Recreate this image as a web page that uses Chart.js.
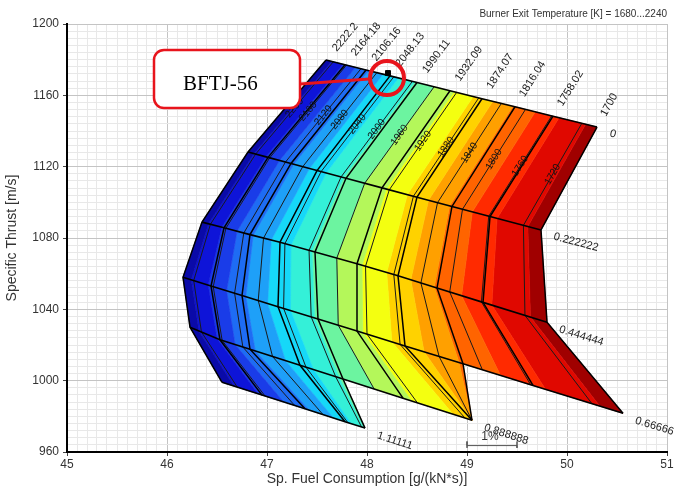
<!DOCTYPE html>
<html>
<head>
<meta charset="utf-8">
<title>Carpet plot</title>
<script src="https://cdn.jsdelivr.net/npm/chart.js@4.4.1/dist/chart.umd.min.js"></script>
<style>
  html, body { margin: 0; padding: 0; background: #fff; }
  #wrap { width: 683px; height: 488px; }
</style>
</head>
<body>
<div id="wrap"><canvas id="grafico"></canvas></div>
<script>
// linhas de temperatura de saida do queimador [K]
const temperaturas = [2222.2, 2164.18, 2106.16, 2048.13, 1990.11, 1932.09, 1874.07, 1816.04, 1758.02, 1700];
// rotulos das linhas do outro parametro
const rotulosLinha = ["0", "0.222222", "0.444444", "0.66666", "0.888888", "1.11111"];

// consumo especifico (x) e empuxo especifico (y), um ponto por temperatura
const sfcL0 = [47.59, 47.78, 47.99, 48.23, 48.50, 48.83, 49.15, 49.48, 49.86, 50.30];
const stL0  = [1179.8, 1177.2, 1174.2, 1170.9, 1167.2, 1162.6, 1158.1, 1153.6, 1148.3, 1142.2];
const sfcL1 = [46.81, 47.01, 47.24, 47.50, 47.79, 48.15, 48.50, 48.85, 49.23, 49.74];
const stL1  = [1128.2, 1125.2, 1121.8, 1117.8, 1113.5, 1108.1, 1102.9, 1097.7, 1092.0, 1084.5];
const sfcL2 = [46.35, 46.57, 46.83, 47.13, 47.48, 47.90, 48.31, 48.70, 49.16, 49.80];
const stL2  = [1088.9, 1085.7, 1081.9, 1077.6, 1072.2, 1065.6, 1058.8, 1052.0, 1043.9, 1032.8];
const sfcL3 = [46.16, 46.44, 46.75, 47.11, 47.51, 47.90, 48.38, 48.96, 49.66, 50.56];
const stL3  = [1058.0, 1053.1, 1047.8, 1041.5, 1034.6, 1027.8, 1019.5, 1009.5, 997.3, 981.7];
const sfcL4 = [46.23, 46.53, 46.83, 47.33, 47.76, 48.36, 49.05, 49.05];
const stL4  = [1030.0, 1022.9, 1017.6, 1008.6, 1000.9, 990.2, 977.8, 977.8];
const sfcL5 = [46.55, 46.95, 47.38, 47.78, 47.98];
const stL5  = [999.1, 991.9, 984.2, 977.0, 973.4];

// ponto de projeto
const projeto = { x: 48.21, y: 1172.5, nome: "BFTJ-56" };

// faixas de cor 1680...2240 K e linhas de contorno rotuladas [K]
const niveisCor = [1680, 1715, 1750, 1785, 1820, 1855, 1890, 1925, 1960, 1995, 2030, 2065, 2100, 2135, 2170, 2205, 2240];
const cores = ["#a00000", "#e00800", "#ff2a00", "#ff6400", "#ffa000", "#ffd200", "#f4ff10", "#b4f75a",
               "#6cf4a0", "#34f0d8", "#16d8f8", "#1ea0f8", "#1e6cf4", "#1a3ce8", "#0e14d8", "#0a0aa8"];
const niveisContorno = [2200, 2160, 2120, 2080, 2040, 2000, 1960, 1920, 1880, 1840, 1800, 1760, 1720];

// barra de 1% no consumo
const escala = { x0: 49, x1: 49.5, y: 963.6, rotulo: "1%" };

const vermelho = "#e8141c";
const titulo = "Burner Exit Temperature [K] = 1680...2240";

const pontos = (xs, ys) => xs.map((x, k) => ({ x, y: ys[k] }));
const linhas = [pontos(sfcL0, stL0), pontos(sfcL1, stL1), pontos(sfcL2, stL2),
                pontos(sfcL3, stL3), pontos(sfcL4, stL4), pontos(sfcL5, stL5)];
const lerp = (a, b, f) => ({ x: a.x + (b.x - a.x) * f, y: a.y + (b.y - a.y) * f });

function pontoNivel(linha, nivel) {
  for (let i = 0; i < linha.length - 1; i++) {
    const t1 = temperaturas[i], t2 = temperaturas[i + 1];
    if (nivel <= t1 && nivel >= t2) return lerp(linha[i], linha[i + 1], (t1 - nivel) / (t1 - t2));
  }
  return null;
}

const contornos = niveisContorno.map(n => {
  const pts = [];
  for (const l of linhas) { const p = pontoNivel(l, n); if (!p) break; pts.push(p); }
  return { nivel: n, pts };
});

const linhaDs = (data, w, cor, ordem) => ({
  data, showLine: true, borderColor: cor, borderWidth: w, pointRadius: 0, fill: false, order: ordem
});

const datasets = [
  { data: [{ x: projeto.x, y: projeto.y }], pointStyle: "rect", pointRadius: 3.5,
    backgroundColor: "#000", borderColor: "#000", order: 0 },
  ...linhas.map(l => linhaDs(l, 1.6, "#000", 1)),
  ...temperaturas.map((t, i) => linhaDs(linhas.filter(l => i < l.length).map(l => l[i]), 1.5, "#000", 2)),
  ...contornos.map(c => linhaDs(c.pts, 1, "#1a1a1a", 3)),
  linhaDs([{ x: escala.x0, y: escala.y + 2.3 }, { x: escala.x0, y: escala.y - 1.3 }, { x: escala.x0, y: escala.y },
           { x: escala.x1, y: escala.y }, { x: escala.x1, y: escala.y + 2.3 }, { x: escala.x1, y: escala.y - 1.3 }],
          1, "#555", 1)
];

// faixas de cor dentro de cada celula do tapete
const preenchimento = {
  id: "preenchimento",
  beforeDatasetsDraw(c) {
    const { ctx, chartArea: a, scales: { x, y } } = c;
    ctx.save();
    ctx.beginPath(); ctx.rect(a.left, a.top, a.width, a.height); ctx.clip();
    for (let j = 0; j < linhas.length - 1; j++) {
      const A = linhas[j], B = linhas[j + 1];
      for (let i = 0; i < temperaturas.length - 1; i++) {
        if (!A[i + 1] || !B[i + 1]) continue;
        const t1 = temperaturas[i], t2 = temperaturas[i + 1];
        for (let b = 0; b < cores.length; b++) {
          const lo = Math.max(niveisCor[b], t2), hi = Math.min(niveisCor[b + 1], t1);
          if (hi <= lo) continue;
          const f1 = (t1 - hi) / (t1 - t2), f2 = (t1 - lo) / (t1 - t2);
          const q = [lerp(A[i], A[i + 1], f1), lerp(A[i], A[i + 1], f2), lerp(B[i], B[i + 1], f2), lerp(B[i], B[i + 1], f1)];
          ctx.beginPath();
          q.forEach((p, k) => {
            const px = x.getPixelForValue(p.x), py = y.getPixelForValue(p.y);
            k ? ctx.lineTo(px, py) : ctx.moveTo(px, py);
          });
          ctx.closePath();
          ctx.fillStyle = cores[b]; ctx.strokeStyle = cores[b]; ctx.lineWidth = 0.6;
          ctx.fill(); ctx.stroke();
        }
      }
    }
    ctx.restore();
  }
};

// rotulos das linhas, dos contornos e chamada do ponto de projeto
const rotulos = {
  id: "rotulos",
  afterDatasetsDraw(c) {
    const { ctx, scales: { x, y } } = c;
    const px = p => [x.getPixelForValue(p.x), y.getPixelForValue(p.y)];
    const texto = (s, x0, y0, ang, dx, dy, fonte, alin) => {
      ctx.save(); ctx.translate(x0, y0); ctx.rotate(ang);
      ctx.font = fonte; ctx.textAlign = alin; ctx.textBaseline = "middle";
      ctx.fillText(s, dx, dy); ctx.restore();
    };
    ctx.fillStyle = "#222";

    temperaturas.forEach((t, i) => {
      const [x0, y0] = px(linhas[0][i]), [x1, y1] = px(linhas[1][i]);
      texto(String(t), x0, y0, Math.atan2(y0 - y1, x0 - x1), 13, 0, "11px Arial, 'Liberation Sans', sans-serif", "left");
    });

    linhas.forEach((l, j) => {
      const fim = l[l.length - 1];
      let k = l.length - 2;
      while (k > 0 && l[k].x === fim.x && l[k].y === fim.y) k--;
      const [x0, y0] = px(fim), [x1, y1] = px(l[k]);
      texto(rotulosLinha[j], x0, y0, Math.atan2(y0 - y1, x0 - x1), 14, 3, "11px Arial, 'Liberation Sans', sans-serif", "left");
    });

    ctx.fillStyle = "#111";
    contornos.forEach(cn => {
      if (cn.pts.length < 2) return;
      const [x0, y0] = px(cn.pts[0]), [x1, y1] = px(cn.pts[1]);
      texto(String(cn.nivel), (x0 + x1) / 2, (y0 + y1) / 2, Math.atan2(y0 - y1, x0 - x1), 0, 0,
            "10px Arial, 'Liberation Sans', sans-serif", "center");
    });

    const [ex0, ey] = px({ x: escala.x0, y: escala.y }), [ex1] = px({ x: escala.x1, y: escala.y });
    ctx.fillStyle = "#333";
    texto(escala.rotulo, (ex0 + ex1) / 2 - 2, ey - 9, 0, 0, 0, "12px Arial, 'Liberation Sans', sans-serif", "center");
  },
  afterDraw(c) {
    const { ctx, scales: { x, y } } = c;
    const mx = x.getPixelForValue(projeto.x), my = y.getPixelForValue(projeto.y);
    ctx.save();
    ctx.strokeStyle = vermelho;
    ctx.lineWidth = 3;
    ctx.beginPath(); ctx.moveTo(mx - 88, my + 11); ctx.lineTo(mx - 19, my + 6); ctx.stroke();
    ctx.lineWidth = 4;
    ctx.beginPath(); ctx.arc(mx - 1, my + 5, 17, 0, 2 * Math.PI); ctx.stroke();
    ctx.lineWidth = 2.5; ctx.fillStyle = "#fff";
    ctx.beginPath(); ctx.roundRect(mx - 234, my - 23, 146, 58, 10); ctx.fill(); ctx.stroke();
    ctx.fillStyle = "#000";
    ctx.font = "21px 'Liberation Serif', 'Times New Roman', serif";
    ctx.textAlign = "left"; ctx.textBaseline = "alphabetic";
    ctx.fillText(projeto.nome, mx - 205, my + 17);
    ctx.restore();
  }
};

const inteiro = (v, p) => Math.abs(v / p - Math.round(v / p)) < 1e-6;

Chart.defaults.font.family = "Arial, 'Liberation Sans', sans-serif";
Chart.defaults.color = "#333";

new Chart(grafico, {
  type: "scatter",
  data: { datasets },
  plugins: [preenchimento, rotulos],
  options: {
    responsive: true, maintainAspectRatio: false, animation: false,
    layout: { padding: { top: 0, right: 16, bottom: 0, left: 0 } },
    plugins: {
      legend: { display: false },
      tooltip: { enabled: false },
      title: { display: true, text: titulo, align: "end", color: "#333",
               font: { size: 10, weight: "normal" }, padding: { top: 8, bottom: 4 } }
    },
    scales: {
      x: {
        type: "linear", min: 45, max: 51,
        afterFit: s => { s.height = 36; },
        border: { display: true, color: "#000", width: 2 },
        grid: {
          color: c => inteiro(c.tick.value, 1) ? "#c4c4c4" : "#e8e8e8",
          tickColor: c => inteiro(c.tick.value, 1) ? "#444" : "rgba(0,0,0,0)",
          tickLength: 4
        },
        ticks: { stepSize: 0.1, autoSkip: false, maxRotation: 0, padding: 1, font: { size: 12 },
                 callback: v => inteiro(v, 1) ? String(Math.round(v)) : "" },
        title: { display: true, text: "Sp. Fuel Consumption [g/(kN*s)]", font: { size: 14 }, padding: { top: 0, bottom: 0 } }
      },
      y: {
        type: "linear", min: 960, max: 1200,
        afterFit: s => { s.width = 67; },
        border: { display: true, color: "#000", width: 2 },
        grid: {
          color: c => inteiro(c.tick.value, 40) ? "#c4c4c4" : "#e8e8e8",
          tickColor: c => inteiro(c.tick.value, 40) ? "#444" : "rgba(0,0,0,0)",
          tickLength: 4
        },
        ticks: { stepSize: 4, autoSkip: false, padding: 4, font: { size: 12 },
                 callback: v => inteiro(v, 40) ? String(Math.round(v)) : "" },
        title: { display: true, text: "Specific Thrust [m/s]", font: { size: 14 } }
      }
    }
  }
});
</script>
</body>
</html>
